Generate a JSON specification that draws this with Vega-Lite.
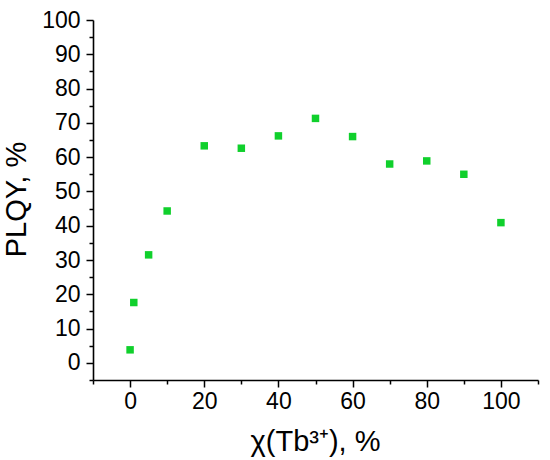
{
  "$schema": "https://vega.github.io/schema/vega-lite/v6.json",
  "autosize": {"type": "none"},
  "padding": {"left": 93, "top": 20, "right": 12, "bottom": 80},
  "width": 445,
  "height": 360,
  "background": "white",
  "config": {
    "view": {"stroke": null},
    "axis": {
      "labelFont": "Liberation Sans",
      "titleFont": "Liberation Sans",
      "labelColor": "#000",
      "titleColor": "#000",
      "domainColor": "#000",
      "tickColor": "#000",
      "domainWidth": 1.6,
      "tickWidth": 1.5,
      "labelFontSize": 23,
      "titleFontSize": 29,
      "titleFontWeight": "normal",
      "grid": false,
      "labelOverlap": false,
      "labelBound": false,
      "labelFlush": false
    }
  },
  "data": {
    "values": [
      {"x": 0, "y": 3.8},
      {"x": 1, "y": 17.6},
      {"x": 5, "y": 31.5},
      {"x": 10, "y": 44.3},
      {"x": 20, "y": 63.3},
      {"x": 30, "y": 62.6},
      {"x": 40, "y": 66.2},
      {"x": 50, "y": 71.3},
      {"x": 60, "y": 66.0},
      {"x": 70, "y": 58.0},
      {"x": 80, "y": 58.9},
      {"x": 90, "y": 55.0},
      {"x": 100, "y": 40.9}
    ]
  },
  "layer": [
    {
      "mark": {"type": "point", "shape": "square", "filled": true, "size": 56, "opacity": 0},
      "encoding": {
        "x": {
          "field": "x",
          "type": "quantitative",
          "scale": {"domain": [-10, 110], "nice": false, "zero": false},
          "axis": {
            "orient": "bottom",
            "title": null,
            "values": [-10, 10, 30, 50, 70, 90, 110],
            "labels": false,
            "domain": false,
            "tickSize": 4
          }
        },
        "y": {
          "field": "y",
          "type": "quantitative",
          "scale": {"domain": [-5, 100], "nice": false, "zero": false},
          "axis": {
            "orient": "left",
            "title": null,
            "values": [-5, 5, 15, 25, 35, 45, 55, 65, 75, 85, 95],
            "labels": false,
            "domain": false,
            "tickSize": 4
          }
        }
      }
    },
    {
      "mark": {"type": "point", "shape": "square", "filled": true, "size": 56, "opacity": 1, "color": "#10d02c"},
      "encoding": {
        "x": {
          "field": "x",
          "type": "quantitative",
          "axis": {
            "orient": "bottom",
            "title": "χ(Tb³⁺), %",
            "values": [0, 20, 40, 60, 80, 100],
            "labelFontSize": 23,
            "tickSize": 7,
            "labelPadding": 3,
            "titleX": 222,
            "titleY": 70,
            "titleBaseline": "alphabetic"
          }
        },
        "y": {
          "field": "y",
          "type": "quantitative",
          "axis": {
            "orient": "left",
            "title": "PLQY, %",
            "values": [0, 10, 20, 30, 40, 50, 60, 70, 80, 90, 100],
            "labelFontSize": 23,
            "tickSize": 7,
            "labelPadding": 6,
            "titleX": -68,
            "titleY": 179,
            "titleBaseline": "alphabetic"
          }
        }
      }
    }
  ],
  "resolve": {"axis": {"x": "independent", "y": "independent"}}
}
